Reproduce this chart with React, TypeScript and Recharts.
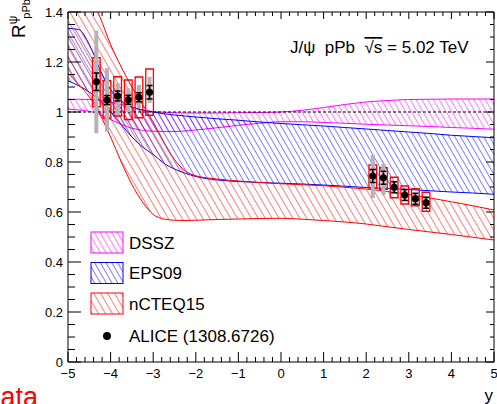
import {
  Area,
  ComposedChart,
  ErrorBar,
  ReferenceArea,
  ReferenceLine,
  Scatter,
  XAxis,
  YAxis,
} from 'recharts'

const FONT = '"Liberation Sans", Arial, Helvetica, sans-serif'
const W = 497
const H = 404

// model bands, sampled on a common rapidity grid
const GRID_Y = [-5, -4.75, -4.5, -4.25, -4, -3.75, -3.5, -3.25, -3, -2.75, -2.5, -2.25, -2, -1.5, -1, -0.5, 0, 0.5, 1, 1.5, 2, 2.5, 3, 3.5, 4, 4.5, 5]
const DSSZ_HI = [1.051, 1.051, 1.05, 1.047, 1.04, 1.03, 1.018, 1.008, 1.002, 0.999, 0.997, 0.996, 0.996, 0.996, 0.997, 0.998, 1.0, 1.007, 1.018, 1.03, 1.04, 1.046, 1.05, 1.051, 1.052, 1.052, 1.052]
const DSSZ_LO = [1.012, 1.008, 1.003, 0.99, 0.97, 0.95, 0.935, 0.927, 0.923, 0.922, 0.922, 0.924, 0.928, 0.937, 0.947, 0.955, 0.961, 0.961, 0.958, 0.955, 0.951, 0.948, 0.945, 0.942, 0.938, 0.935, 0.931]
const EPS_HI = [1.335, 1.33, 1.27, 1.17, 1.09, 1.045, 1.02, 1.008, 1.0, 0.993, 0.988, 0.984, 0.98, 0.973, 0.967, 0.96, 0.954, 0.949, 0.944, 0.938, 0.932, 0.926, 0.92, 0.914, 0.907, 0.902, 0.897]
const EPS_LO = [1.125, 1.105, 1.08, 1.045, 1.0, 0.95, 0.9, 0.86, 0.83, 0.795, 0.772, 0.755, 0.742, 0.728, 0.722, 0.718, 0.715, 0.712, 0.708, 0.703, 0.698, 0.694, 0.69, 0.685, 0.68, 0.676, 0.671]
const NCTEQ_HI = [1.63, 1.55, 1.47, 1.38, 1.27, 1.18, 1.1, 1.03, 0.96, 0.88, 0.81, 0.765, 0.745, 0.732, 0.724, 0.718, 0.713, 0.709, 0.705, 0.699, 0.692, 0.682, 0.67, 0.656, 0.641, 0.625, 0.608]
const NCTEQ_LO = [1.155, 1.11, 1.06, 0.99, 0.9, 0.8, 0.71, 0.64, 0.59, 0.572, 0.567, 0.566, 0.567, 0.57, 0.572, 0.574, 0.575, 0.571, 0.566, 0.56, 0.552, 0.541, 0.53, 0.52, 0.51, 0.499, 0.488]

// ALICE points
const ALICE_X = [-4.335, -4.085, -3.835, -3.585, -3.335, -3.085, 2.155, 2.405, 2.655, 2.905, 3.155, 3.405]
const ALICE_R = [1.121, 1.048, 1.064, 1.049, 1.059, 1.079, 0.744, 0.737, 0.699, 0.668, 0.653, 0.637]
const ALICE_STAT = [0.035, 0.018, 0.02, 0.018, 0.018, 0.027, 0.026, 0.026, 0.022, 0.022, 0.022, 0.022]
const GREY_LO = [0.915, 0.921, 0.988, 1.0, 1.016, 1.036, 0.656, 0.668, 0.675, 0.645, 0.63, 0.614]
const GREY_HI = [1.325, 1.175, 1.115, 1.095, 1.108, 1.141, 0.828, 0.793, 0.723, 0.69, 0.676, 0.66]
const BOX_LO = [1.021, 0.975, 0.984, 0.97, 0.977, 0.987, 0.695, 0.691, 0.657, 0.632, 0.625, 0.603]
const BOX_HI = [1.217, 1.125, 1.141, 1.128, 1.14, 1.172, 0.788, 0.777, 0.739, 0.704, 0.693, 0.679]
const BOX_HALF = 0.09

const X_MAJOR = [-5, -4, -3, -2, -1, 0, 1, 2, 3, 4, 5]
const Y_MAJOR = [0, 0.2, 0.4, 0.6, 0.8, 1, 1.2, 1.4]
const X_TICKS = Array.from({ length: 51 }, (_, i) => Math.round((-5 + i * 0.2) * 10) / 10)
const Y_TICKS = Array.from({ length: 29 }, (_, i) => Math.round(i * 5) / 100)

const bands = GRID_Y.map((x, i) => ({
  x,
  dssz: [DSSZ_LO[i], DSSZ_HI[i]],
  eps: [EPS_LO[i], EPS_HI[i]],
  ncteq: [NCTEQ_LO[i], NCTEQ_HI[i]],
}))

const points = ALICE_X.map((x, i) => ({
  x,
  y: ALICE_R[i],
  stat: ALICE_STAT[i],
  grey: [ALICE_R[i] - GREY_LO[i], GREY_HI[i] - ALICE_R[i]],
}))

const isMajor = (v: number, list: number[]) => list.some((m) => Math.abs(m - v) < 1e-6)
const fmtX = (v: number) => (v < 0 ? '\u2212' + Math.abs(v) : String(v))

function BottomTick({ x, y, payload }: any) {
  const major = isMajor(payload.value, X_MAJOR)
  return (
    <g>
      <line x1={x} x2={x} y1={y} y2={y - (major ? 10 : 5)} stroke="#000" />
      {major && (
        <text x={x} y={y + 16} textAnchor="middle" fontSize={13} fontFamily={FONT} fill="#000">
          {fmtX(payload.value)}
        </text>
      )}
    </g>
  )
}

function TopTick({ x, y, payload }: any) {
  const major = isMajor(payload.value, X_MAJOR)
  return <line x1={x} x2={x} y1={y} y2={y + (major ? 7 : 4)} stroke="#000" />
}

function LeftTick({ x, y, payload }: any) {
  const major = isMajor(payload.value, Y_MAJOR)
  return (
    <g>
      <line x1={x} x2={x + (major ? 13 : 7)} y1={y} y2={y} stroke="#000" />
      {major && (
        <text x={x - 5} y={y + 4.6} textAnchor="end" fontSize={13} fontFamily={FONT} fill="#000">
          {String(payload.value)}
        </text>
      )}
    </g>
  )
}

function RightTick({ x, y, payload }: any) {
  const major = isMajor(payload.value, Y_MAJOR)
  return <line x1={x} x2={x - (major ? 8 : 4)} y1={y} y2={y} stroke="#000" />
}

const Dot = (p: any) => <circle cx={p.cx} cy={p.cy} r={3.6} fill="#000" />

const LEGEND = [
  { name: 'DSSZ', color: '#ff00ff', fill: 'url(#hatch-m)' },
  { name: 'EPS09', color: '#0000ff', fill: 'url(#hatch-b)' },
  { name: 'nCTEQ15', color: '#ff0000', fill: 'url(#hatch-r)' },
]

function Hatch({ id, color, size }: { id: string; color: string; size: number }) {
  return (
    <pattern id={id} patternUnits="userSpaceOnUse" width={size} height={size} patternTransform="rotate(-30)">
      <line x1={0} y1={0} x2={0} y2={size} stroke={color} strokeWidth={1} />
    </pattern>
  )
}

// axis band sizes; plot area ends up at x 68..494, y 12..362
const AX_BOTTOM = 30
const AX_LEFT = 60
const AX_TOP = 4
const AX_RIGHT = 2

export default function App() {
  return (
    <div style={{ position: 'fixed', left: 0, top: 0, width: W, height: H, background: '#fff', overflow: 'hidden' }}>
      <svg width={0} height={0} style={{ position: 'absolute' }}>
        <defs>
          <Hatch id="hatch-m" color="#ff00ff" size={5} />
          <Hatch id="hatch-b" color="#0000ff" size={5} />
          <Hatch id="hatch-r" color="#ff0000" size={6} />
        </defs>
      </svg>
      <ComposedChart
        width={W}
        height={H}
        data={bands}
        margin={{ top: 12 - AX_TOP, right: 3 - AX_RIGHT, bottom: 42 - AX_BOTTOM, left: 68 - AX_LEFT }}
      >
        <XAxis
          dataKey="x"
          type="number"
          domain={[-5, 5]}
          ticks={X_TICKS}
          interval={0}
          tickLine={false}
          tickSize={0}
          tickMargin={0}
          tick={BottomTick}
          height={AX_BOTTOM}
          stroke="#000"
          allowDataOverflow
        />
        <XAxis
          xAxisId="top"
          orientation="top"
          dataKey="x"
          type="number"
          domain={[-5, 5]}
          ticks={X_TICKS}
          interval={0}
          tickLine={false}
          tickSize={0}
          tickMargin={0}
          tick={TopTick}
          height={AX_TOP}
          stroke="#000"
          allowDataOverflow
        />
        <YAxis
          type="number"
          domain={[0, 1.4]}
          ticks={Y_TICKS}
          interval={0}
          tickLine={false}
          tickSize={0}
          tickMargin={0}
          tick={LeftTick}
          width={AX_LEFT}
          stroke="#000"
          allowDataOverflow
        />
        <YAxis
          yAxisId="r"
          orientation="right"
          type="number"
          domain={[0, 1.4]}
          ticks={Y_TICKS}
          interval={0}
          tickLine={false}
          tickSize={0}
          tickMargin={0}
          tick={RightTick}
          width={AX_RIGHT}
          stroke="#000"
          allowDataOverflow
        />
        <Area type="monotone" dataKey="dssz" stroke="#ff00ff" strokeWidth={1} fill="url(#hatch-m)" fillOpacity={1} isAnimationActive={false} dot={false} activeDot={false} />
        <Area type="monotone" dataKey="eps" stroke="#0000ff" strokeWidth={1} fill="url(#hatch-b)" fillOpacity={1} isAnimationActive={false} dot={false} activeDot={false} />
        <Area type="monotone" dataKey="ncteq" stroke="#ff0000" strokeWidth={1} fill="url(#hatch-r)" fillOpacity={1} isAnimationActive={false} dot={false} activeDot={false} />
        <ReferenceLine y={1} stroke="#000" strokeDasharray="3 2" strokeWidth={1} />
        <Scatter data={points} dataKey="y" shape={Dot} isAnimationActive={false}>
          <ErrorBar dataKey="grey" direction="y" width={0} strokeWidth={4} stroke="#b4b4b4" />
          <ErrorBar dataKey="stat" direction="y" width={3} strokeWidth={1.5} stroke="#000" />
        </Scatter>
        {ALICE_X.map((x, i) => (
          <ReferenceArea
            key={i}
            x1={x - BOX_HALF}
            x2={x + BOX_HALF}
            y1={BOX_LO[i]}
            y2={BOX_HI[i]}
            fill="none"
            stroke="#ff0000"
            strokeWidth={1.3}
            ifOverflow="visible"
          />
        ))}
      </ComposedChart>
      <svg width={W} height={H} style={{ position: 'absolute', left: 0, top: 0, pointerEvents: 'none' }} fontFamily={FONT}>
        <text transform="translate(25,38) rotate(-90)" fontSize={19} fill="#000">
          R
          <tspan fontSize={12} dy={-8}>ψ</tspan>
          <tspan fontSize={11} dx={-3} dy={13}>pPb</tspan>
        </text>
        <text x={290} y={53} fontSize={17} fill="#000" xmlSpace="preserve">
          {'J/ψ  pPb  '}
          <tspan style={{ textDecoration: 'overline' }}>√s</tspan>
          {' = 5.02 TeV'}
        </text>
        {LEGEND.map((l, i) => (
          <g key={l.name}>
            <rect x={91} y={232 + i * 30.5} width={32} height={21} fill="#fff" />
            <rect x={91} y={232 + i * 30.5} width={32} height={21} fill={l.fill} stroke={l.color} strokeWidth={1} />
            <text x={129} y={248.5 + i * 30.5} fontSize={17} fill="#000">
              {l.name}
            </text>
          </g>
        ))}
        <circle cx={107} cy={336} r={4} fill="#000" />
        <text x={129} y={342} fontSize={17} fill="#000">
          ALICE (1308.6726)
        </text>
        <text x={493} y={401} fontSize={17} textAnchor="end" fill="#000">
          y
        </text>
        <text x={38} y={406} fontSize={27} textAnchor="end" fill="#ff0000">
          data
        </text>
      </svg>
    </div>
  )
}
